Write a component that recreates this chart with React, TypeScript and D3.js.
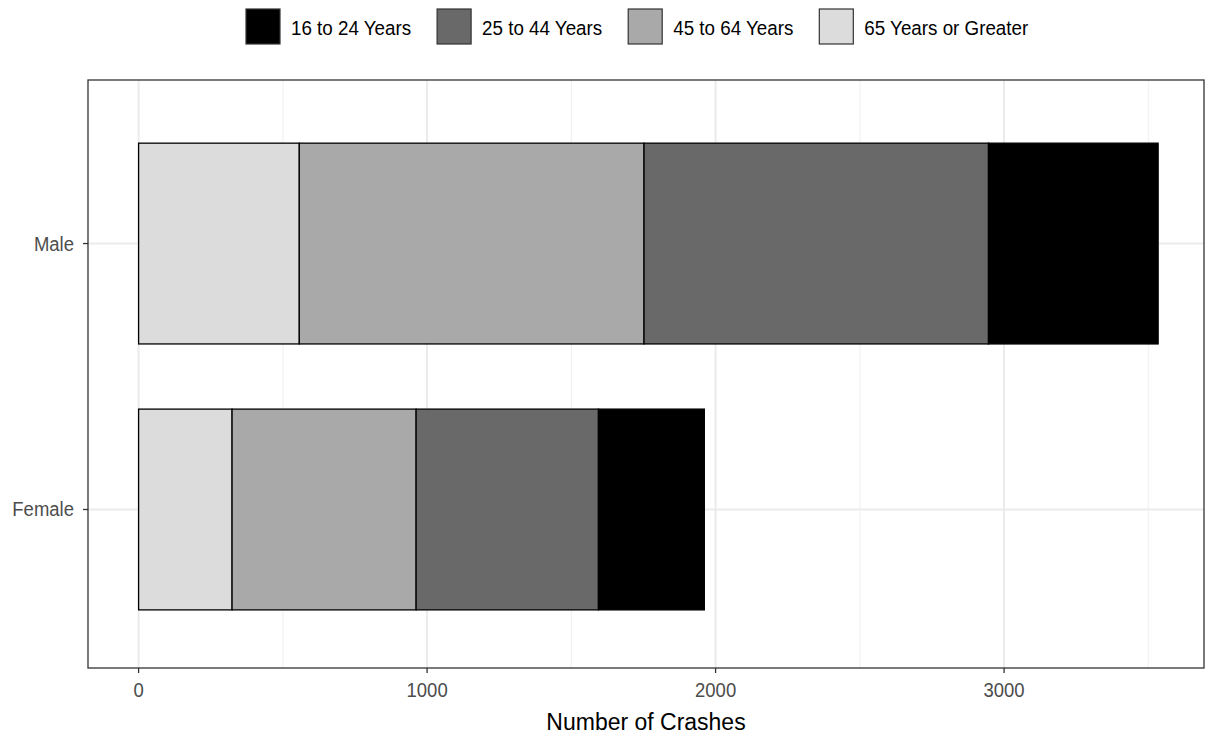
import React, { useEffect, useRef } from "react";
import * as d3 from "d3";

const genders = ["Male", "Female"];
const ageGroups = ["16 to 24 Years", "25 to 44 Years", "45 to 64 Years", "65 Years or Greater"];
const fills = ["#000000", "#696969", "#a9a9a9", "#dcdcdc"];
// stacking order from left (value 0) to right
const stackOrder = ["65 Years or Greater", "45 to 64 Years", "25 to 44 Years", "16 to 24 Years"];
const male = [588, 1194, 1195, 557]; // 16-24, 25-44, 45-64, 65+
const female = [367, 632, 638, 324];
const xTicks = [0, 1000, 2000, 3000];
const xMinor = [500, 1500, 2500, 3500];
const xTitle = "Number of Crashes";

const W = 1208;
const H = 735;
const panel = { left: 88, right: 1204, top: 80, bottom: 668 };
const FONT = "'Liberation Sans', Arial, sans-serif";
const VS = 1.08; // vertical text stretch

export default function App() {
  const ref = useRef<SVGSVGElement>(null);

  useEffect(() => {
    const svg = d3.select(ref.current);
    svg.selectAll("*").remove();

    const values: Record<string, number[]> = { Male: male, Female: female };
    const rows = genders.map((g) => {
      const r: any = { gender: g };
      ageGroups.forEach((a, i) => (r[a] = values[g][i]));
      return r;
    });
    const stacked = d3.stack<any>().keys(stackOrder)(rows);

    const x = d3.scaleLinear().domain([-175.4, 3693]).range([panel.left, panel.right]);
    const yPos = d3.scaleLinear().domain([0.385, 2.596]).range([panel.top, panel.bottom]);
    const catIndex = (g: string) => genders.indexOf(g) + 1;
    const barW = 0.755;

    const txt = (parent: any, tx: number, ty: number, s: string, size: number, fill: string, anchor: string) => {
      const t = parent.append("text")
        .attr("transform", `translate(${tx},${ty}) scale(1,${VS})`)
        .attr("x", 0).attr("y", 0)
        .attr("text-anchor", anchor)
        .attr("font-family", FONT).attr("font-size", size).attr("fill", fill).text(s);
      return t;
    };

    svg.append("rect").attr("x", 0).attr("y", 0).attr("width", W).attr("height", H).attr("fill", "#fff");

    const grid = svg.append("g");
    xMinor.forEach((v) =>
      grid.append("line").attr("x1", x(v)).attr("x2", x(v)).attr("y1", panel.top).attr("y2", panel.bottom)
        .attr("stroke", "#f2f2f2").attr("stroke-width", 1.2)
    );
    xTicks.forEach((v) =>
      grid.append("line").attr("x1", x(v)).attr("x2", x(v)).attr("y1", panel.top).attr("y2", panel.bottom)
        .attr("stroke", "#ebebeb").attr("stroke-width", 2)
    );
    genders.forEach((g) =>
      grid.append("line").attr("x1", panel.left).attr("x2", panel.right)
        .attr("y1", yPos(catIndex(g))).attr("y2", yPos(catIndex(g)))
        .attr("stroke", "#ebebeb").attr("stroke-width", 2)
    );

    stacked.forEach((layer) => {
      const fill = fills[ageGroups.indexOf(layer.key)];
      svg.append("g").selectAll("rect").data(layer).join("rect")
        .attr("x", (d: any) => x(d[0]))
        .attr("width", (d: any) => x(d[1]) - x(d[0]))
        .attr("y", (d: any) => yPos(catIndex(d.data.gender) - barW / 2))
        .attr("height", (d: any) => yPos(catIndex(d.data.gender) + barW / 2) - yPos(catIndex(d.data.gender) - barW / 2))
        .attr("fill", fill)
        .attr("stroke", "#000")
        .attr("stroke-width", 1.3);
    });

    // panel border
    svg.append("rect").attr("x", panel.left).attr("y", panel.top)
      .attr("width", panel.right - panel.left).attr("height", panel.bottom - panel.top)
      .attr("fill", "none").attr("stroke", "#333").attr("stroke-width", 1.3);

    // x axis ticks + labels
    xTicks.forEach((v) => {
      svg.append("line").attr("x1", x(v)).attr("x2", x(v)).attr("y1", panel.bottom).attr("y2", panel.bottom + 5)
        .attr("stroke", "#333").attr("stroke-width", 1.3);
      txt(svg, x(v), 697, d3.format("d")(v), 18.5, "#4d4d4d", "middle");
    });
    txt(svg, (panel.left + panel.right) / 2, 730, xTitle, 23, "#000", "middle");

    // y axis
    genders.forEach((g) => {
      const yy = yPos(catIndex(g));
      svg.append("line").attr("x1", panel.left - 5).attr("x2", panel.left).attr("y1", yy).attr("y2", yy)
        .attr("stroke", "#333").attr("stroke-width", 1.3);
      txt(svg, panel.left - 14, yy + 7, g, 18.5, "#4d4d4d", "end");
    });

    // legend
    const lg = svg.append("g");
    let cx = 246;
    ageGroups.forEach((a, i) => {
      lg.append("rect").attr("x", cx).attr("y", 9).attr("width", 34).attr("height", 35)
        .attr("fill", fills[i]).attr("stroke", "#333").attr("stroke-width", 1.2);
      const t = txt(lg, cx + 45, 35, a, 18.8, "#000", "start");
      const w = (t.node() as SVGTextElement).getComputedTextLength();
      cx = cx + 45 + w + 26;
    });
  }, []);

  return (
    <svg ref={ref} width={W} height={H} style={{ position: "absolute", left: 0, top: 0 }} />
  );
}
